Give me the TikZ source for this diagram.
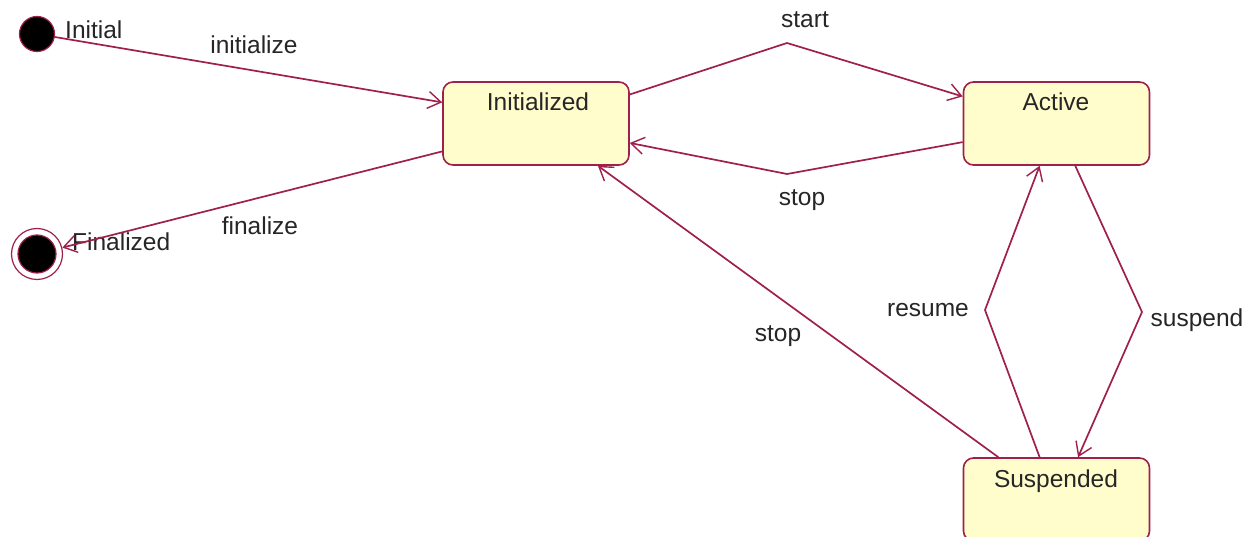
\documentclass[tikz,border=0pt]{standalone}
\usepackage{fontspec}
\setmainfont{Liberation Sans}
\usetikzlibrary{arrows.meta,calc}
\definecolor{umlline}{HTML}{A0204C}
\definecolor{umlfill}{HTML}{FFFDCC}
\tikzset{
  statebox/.style={draw=umlline, fill=umlfill, line width=1.6pt, rounded corners=10pt,
    minimum width=186pt, minimum height=83pt, inner sep=0pt},
  statename/.style={font=\fontsize{24.5}{28}\selectfont, text=black!85},
  lbl/.style={font=\fontsize{24.5}{28}\selectfont, text=black!85, inner sep=0pt},
  tr/.style={draw=umlline, line width=1.7pt, -{Straight Barb[length=13pt,width=17pt,line width=1.4pt]}},
}
\begin{document}
\begin{tikzpicture}[x=1pt,y=-1pt]
\useasboundingbox (0,0) rectangle (1256,537);
\clip (0,0) rectangle (1256,537);
\fill[white] (0,0) rectangle (1256,537);

% states
\node[statebox] (ini) at (536,123.5) {};
\node[statebox] (act) at (1056.5,123.5) {};
\node[statebox] (sus) at (1056.5,499.5) {};
\node[statename] (iniT) at (538,102) {Initialized};
\node[statename] (actT) at (1056,102) {Active};
\node[statename] (susT) at (1056,481) {Suspended};

% pseudo states
\node[circle, fill=black, draw=umlline, line width=1.2pt, minimum size=35pt, inner sep=0pt] (init) at (37,34) {};
\node[circle, fill=white, draw=umlline, line width=1.2pt, minimum size=51pt, inner sep=0pt] (fin) at (37,254) {};
\node[circle, fill=black, draw=umlline, line width=1.2pt, minimum size=38pt, inner sep=0pt] (finin) at (37,254) {};
\node[lbl, anchor=west] (initT) at (65,30) {Initial};
\node[lbl, anchor=west] (finT) at (72,242) {Finalized};

% transitions
\draw[tr] (init) -- ($(ini.north west)!0.25!(ini.south west)$);
\draw[tr] ($(ini.north west)!0.83!(ini.south west)$) -- (fin);
\draw[tr] ($(ini.north east)!0.157!(ini.south east)$) -- (787,43) -- ($(act.north west)!0.18!(act.south west)$);
\draw[tr] ($(act.north west)!0.72!(act.south west)$) -- (787,174) -- ($(ini.north east)!0.73!(ini.south east)$);
\draw[tr] ($(sus.north west)!0.19!(sus.north east)$) -- ($(ini.south west)!0.83!(ini.south east)$);
\draw[tr] ($(sus.north west)!0.41!(sus.north east)$) -- (985,310) -- ($(act.south west)!0.41!(act.south east)$);
\draw[tr] ($(act.south west)!0.60!(act.south east)$) -- (1142,312) -- ($(sus.north west)!0.615!(sus.north east)$);

% transition labels
\node[lbl] (l1) at (254,45) {initialize};
\node[lbl] (l2) at (805,20) {start};
\node[lbl] (l3) at (802,200) {stop};
\node[lbl] (l4) at (260,226) {finalize};
\node[lbl] (l5) at (778,336) {stop};
\node[lbl] (l6) at (928,310) {resume};
\node[lbl] (l7) at (1197,320) {suspend};
\end{tikzpicture}
\end{document}
